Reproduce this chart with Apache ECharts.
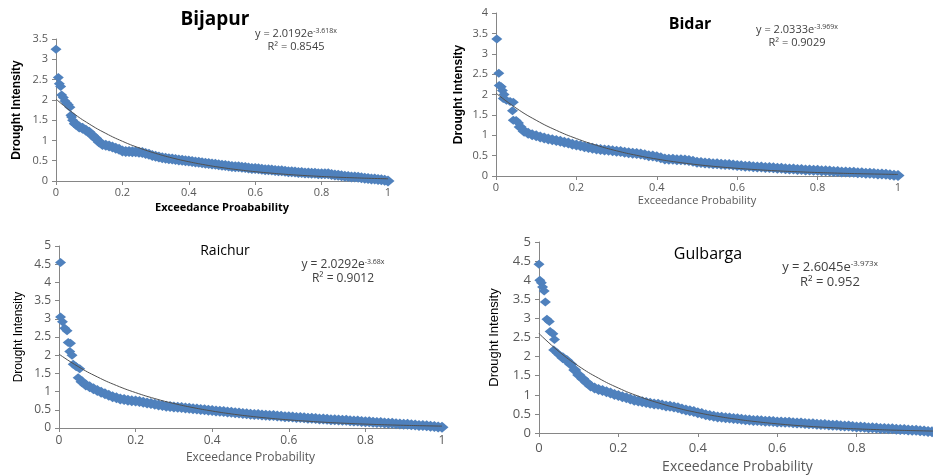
<!DOCTYPE html>
<html>
<head>
<meta charset="utf-8">
<script src="https://cdn.jsdelivr.net/npm/echarts@6/dist/echarts.min.js"></script>
<style>
  html, body { margin: 0; padding: 0; background: #fff; }
  #chart { width: 933px; height: 475px; }
</style>
</head>
<body>
<div id="chart"></div>
<script>
// exceedance probabilities of the dense part of each curve (rank spacing 0.01)
var tailProb = [];
for (var k = 6; k <= 100; k++) tailProb.push(k / 100);

var trendProb = [0, 0.05, 0.1, 0.15, 0.2, 0.25, 0.3, 0.35, 0.4, 0.45, 0.5,
                 0.55, 0.6, 0.65, 0.7, 0.75, 0.8, 0.85, 0.9, 0.95, 1];

// Bijapur
var bijapurHeadX = [0, 0.007, 0.01, 0.014, 0.017, 0.022, 0.027, 0.032, 0.037, 0.042, 0.045, 0.047, 0.05, 0.055];
var bijapurHeadY = [3.25, 2.55, 2.4, 2.33, 2.12, 2.06, 1.97, 1.92, 1.88, 1.82, 1.62, 1.58, 1.5, 1.42];
var bijapurTail = [
  1.40,1.33,1.30,1.25,1.20,1.12,1.05,0.96,0.90,0.88,
  0.86,0.84,0.81,0.78,0.74,0.73,0.73,0.72,0.72,0.71,
  0.70,0.68,0.66,0.63,0.61,0.59,0.57,0.56,0.55,0.54,
  0.53,0.52,0.51,0.50,0.49,0.48,0.47,0.46,0.45,0.44,
  0.43,0.42,0.41,0.40,0.39,0.38,0.37,0.36,0.35,0.35,
  0.34,0.33,0.32,0.31,0.31,0.30,0.29,0.28,0.28,0.27,
  0.26,0.25,0.25,0.24,0.23,0.23,0.22,0.21,0.21,0.20,
  0.20,0.19,0.19,0.18,0.18,0.18,0.18,0.16,0.15,0.14,
  0.13,0.12,0.11,0.10,0.10,0.09,0.08,0.07,0.06,0.05,
  0.05,0.04,0.03,0.02,0.00];
var bijapurTrend = [2.019,1.685,1.406,1.174,0.979,0.817,0.682,0.569,0.475,0.396,0.331,
                    0.276,0.230,0.192,0.160,0.134,0.112,0.093,0.078,0.065,0.054];

// Bidar
var bidarHeadX = [0.002, 0.007, 0.008, 0.013, 0.016, 0.018, 0.02, 0.026, 0.035, 0.043, 0.041, 0.043, 0.05, 0.056];
var bidarHeadY = [3.36, 2.52, 2.22, 2.19, 2.1, 1.9, 2.0, 1.86, 1.83, 1.81, 1.6, 1.37, 1.36, 1.3];
var bidarTail = [
  1.20,1.10,1.05,1.01,0.99,0.96,0.93,0.91,0.89,0.87,
  0.85,0.83,0.81,0.78,0.76,0.74,0.72,0.70,0.68,0.66,
  0.65,0.64,0.63,0.62,0.61,0.60,0.58,0.57,0.56,0.55,
  0.54,0.52,0.50,0.49,0.47,0.45,0.42,0.41,0.41,0.40,
  0.40,0.39,0.38,0.36,0.34,0.33,0.32,0.31,0.30,0.30,
  0.29,0.28,0.28,0.27,0.26,0.25,0.24,0.24,0.23,0.22,
  0.22,0.21,0.21,0.20,0.19,0.19,0.18,0.17,0.17,0.16,
  0.16,0.15,0.15,0.14,0.14,0.13,0.13,0.12,0.11,0.11,
  0.10,0.10,0.09,0.09,0.08,0.08,0.07,0.07,0.06,0.05,
  0.05,0.04,0.03,0.02,0.01];
var bidarTrend = [2.033,1.667,1.367,1.121,0.919,0.754,0.618,0.507,0.416,0.341,0.279,
                  0.229,0.188,0.154,0.126,0.104,0.085,0.070,0.057,0.047,0.038];

// Raichur
var raichurHeadX = [0.004, 0.004, 0.009, 0.015, 0.021, 0.024, 0.03, 0.028, 0.034, 0.037, 0.045, 0.054, 0.05];
var raichurHeadY = [4.55, 3.05, 2.92, 2.74, 2.67, 2.35, 2.33, 2.1, 2.0, 1.75, 1.68, 1.63, 1.38];
var raichurTail = [
  1.27,1.18,1.13,1.08,1.03,0.98,0.94,0.90,0.86,0.83,
  0.80,0.78,0.76,0.75,0.74,0.73,0.71,0.69,0.67,0.65,
  0.63,0.62,0.60,0.59,0.58,0.57,0.56,0.55,0.54,0.53,
  0.52,0.51,0.50,0.49,0.48,0.47,0.46,0.45,0.44,0.43,
  0.42,0.41,0.40,0.39,0.38,0.37,0.37,0.36,0.35,0.34,
  0.34,0.33,0.32,0.31,0.31,0.30,0.29,0.29,0.28,0.27,
  0.27,0.26,0.25,0.25,0.24,0.23,0.23,0.22,0.21,0.21,
  0.20,0.19,0.19,0.18,0.17,0.17,0.16,0.15,0.15,0.14,
  0.13,0.13,0.12,0.11,0.10,0.10,0.09,0.08,0.07,0.07,
  0.06,0.05,0.04,0.03,0.02];
var raichurTrend = [2.029,1.688,1.404,1.168,0.972,0.809,0.673,0.560,0.466,0.387,0.322,
                    0.268,0.223,0.186,0.154,0.128,0.107,0.089,0.074,0.062,0.051];

// Gulbarga
var gulbargaHeadX = [0, 0.002, 0.006, 0.009, 0.013, 0.016, 0.02, 0.026, 0.028, 0.035, 0.039, 0.037, 0.045, 0.05];
var gulbargaHeadY = [4.42, 4.0, 3.93, 3.82, 3.72, 3.43, 2.98, 2.92, 2.66, 2.6, 2.45, 2.17, 2.1, 2.05];
var gulbargaTail = [
  1.97,1.90,1.80,1.65,1.52,1.42,1.32,1.23,1.18,1.14,
  1.11,1.08,1.05,1.01,0.98,0.95,0.92,0.89,0.86,0.84,
  0.82,0.80,0.78,0.76,0.75,0.73,0.71,0.70,0.68,0.66,
  0.63,0.60,0.58,0.56,0.53,0.51,0.48,0.46,0.44,0.42,
  0.41,0.40,0.39,0.38,0.37,0.36,0.35,0.34,0.33,0.33,
  0.32,0.31,0.31,0.30,0.29,0.29,0.28,0.28,0.27,0.26,
  0.26,0.25,0.24,0.24,0.23,0.22,0.22,0.21,0.20,0.20,
  0.19,0.18,0.18,0.17,0.16,0.16,0.15,0.14,0.14,0.13,
  0.12,0.12,0.11,0.11,0.10,0.09,0.09,0.08,0.07,0.07,
  0.06,0.05,0.04,0.03,0.02];
var gulbargaTrend = [2.605,2.135,1.750,1.435,1.177,0.965,0.791,0.648,0.532,0.436,0.357,
                     0.293,0.240,0.197,0.161,0.132,0.108,0.089,0.073,0.060,0.049];

var yMax = [3.5, 4, 5, 5];

var panels = [
  { headX: bijapurHeadX, headY: bijapurHeadY, tail: bijapurTail, trend: bijapurTrend,
    grid: { left: 56, top: 39, width: 332, height: 142 },
    font: 11, labelGap: 6, xName: 'Exceedance Proabability', xBold: true, xNameGap: 21, xNameSize: 11, xNameColor: '#000',
    yBold: true, yNameGap: 33, yNameSize: 12 },
  { headX: bidarHeadX, headY: bidarHeadY, tail: bidarTail, trend: bidarTrend,
    grid: { left: 496, top: 13, width: 402, height: 163 },
    font: 11, labelGap: 6, xName: 'Exceedance Probability', xBold: false, xNameGap: 19, xNameSize: 11, xNameColor: '#595959',
    yBold: true, yNameGap: 31, yNameSize: 12 },
  { headX: raichurHeadX, headY: raichurHeadY, tail: raichurTail, trend: raichurTrend,
    grid: { left: 59, top: 246, width: 383, height: 182 },
    font: 12, labelGap: 7, xName: 'Exceedance Probability', xBold: false, xNameGap: 24, xNameSize: 12, xNameColor: '#595959',
    yBold: false, yNameGap: 34, yNameSize: 12 },
  { headX: gulbargaHeadX, headY: gulbargaHeadY, tail: gulbargaTail, trend: gulbargaTrend,
    grid: { left: 539, top: 242, width: 397, height: 191 },
    font: 13, labelGap: 9, xName: 'Exceedance Probability', xBold: false, xNameGap: 27, xNameSize: 14, xNameColor: '#595959',
    yBold: false, yNameGap: 38, yNameSize: 13 }
];

var FONT = "'Open Sans', 'Liberation Sans', sans-serif";
var NARROW = "'Liberation Sans Narrow', 'Arial Narrow', 'Liberation Sans', sans-serif";
var BLUE = '#4F81BD';

var grids = [], xAxes = [], yAxes = [], series = [];
panels.forEach(function (p, i) {
  p.grid.outerBoundsMode = 'none';
  grids.push(p.grid);
  xAxes.push({
    gridIndex: i, type: 'value', min: 0, max: 1, interval: 0.2,
    name: p.xName, nameLocation: 'middle', nameGap: p.xNameGap,
    nameTextStyle: { fontFamily: FONT, fontSize: p.xNameSize, color: p.xNameColor, fontWeight: p.xBold ? 'bold' : 'normal' },
    axisLine: { lineStyle: { color: '#868686' } },
    axisTick: { length: 4, lineStyle: { color: '#868686' } },
    splitLine: { show: false },
    axisLabel: { fontFamily: FONT, fontSize: p.font, color: '#595959', margin: p.labelGap }
  });
  yAxes.push({
    gridIndex: i, type: 'value', min: 0, max: yMax[i], interval: 0.5,
    name: 'Drought Intensity', nameLocation: 'middle', nameGap: p.yNameGap,
    nameTextStyle: { fontFamily: NARROW, fontSize: p.yNameSize, color: '#000', fontWeight: p.yBold ? 'bold' : 'normal' },
    axisLine: { show: true, lineStyle: { color: '#868686' } },
    axisTick: { show: true, length: 4, lineStyle: { color: '#868686' } },
    splitLine: { show: false },
    axisLabel: { fontFamily: FONT, fontSize: p.font, color: '#595959', margin: 8 }
  });
  series.push({
    type: 'scatter', xAxisIndex: i, yAxisIndex: i,
    data: p.tail.map(function (y, j) { return [tailProb[j], y]; }),
    symbol: 'diamond', symbolSize: [13, 11],
    itemStyle: { color: BLUE, opacity: 1 }, z: 2
  });
  series.push({
    type: 'scatter', xAxisIndex: i, yAxisIndex: i,
    data: p.headX.map(function (x, j) { return [x, p.headY[j]]; }),
    symbol: 'diamond', symbolSize: [11, 9],
    itemStyle: { color: BLUE, opacity: 1 }, z: 2
  });
  series.push({
    type: 'line', xAxisIndex: i, yAxisIndex: i, smooth: true, showSymbol: false,
    data: trendProb.map(function (x, j) { return [x, p.trend[j]]; }),
    lineStyle: { color: '#505050', width: 1 }, z: 3
  });
});

function label(x, y, text, size, bold) {
  return { type: 'text', x: x, y: y,
    style: { text: text, fontFamily: FONT, fontSize: size, fontWeight: bold ? 'bold' : 'normal',
             fill: '#000', align: 'center', verticalAlign: 'middle' } };
}
function equation(x, y, a, b, r2, size) {
  return { type: 'text', x: x, y: y,
    style: {
      text: '{n|y = ' + a + 'e}{s|' + b + 'x}\n{n|R² = ' + r2 + '}',
      align: 'center', verticalAlign: 'top',
      rich: {
        n: { fontFamily: FONT, fontSize: size, fill: '#404040', lineHeight: size + 2 },
        s: { fontFamily: FONT, fontSize: Math.round(size * 0.62), fill: '#404040', verticalAlign: 'top', lineHeight: size + 2 }
      }
    } };
}

var option = {
  animation: false,
  backgroundColor: '#fff',
  grid: grids,
  xAxis: xAxes,
  yAxis: yAxes,
  series: series,
  graphic: [
    label(215, 20, 'Bijapur', 19, true),
    label(690, 24, 'Bidar', 16, true),
    label(225, 251, 'Raichur', 14, false),
    label(708, 254, 'Gulbarga', 16, false),
    equation(296, 27, '2.0192', '-3.618', '0.8545', 11),
    equation(797, 23, '2.0333', '-3.969', '0.9029', 11),
    equation(343, 258, '2.0292', '-3.68', '0.9012', 12),
    equation(830, 260, '2.6045', '-3.973', '0.952', 13)
  ]
};

var myChart = echarts.init(document.getElementById('chart'));
myChart.setOption(option);
</script>
</body>
</html>
